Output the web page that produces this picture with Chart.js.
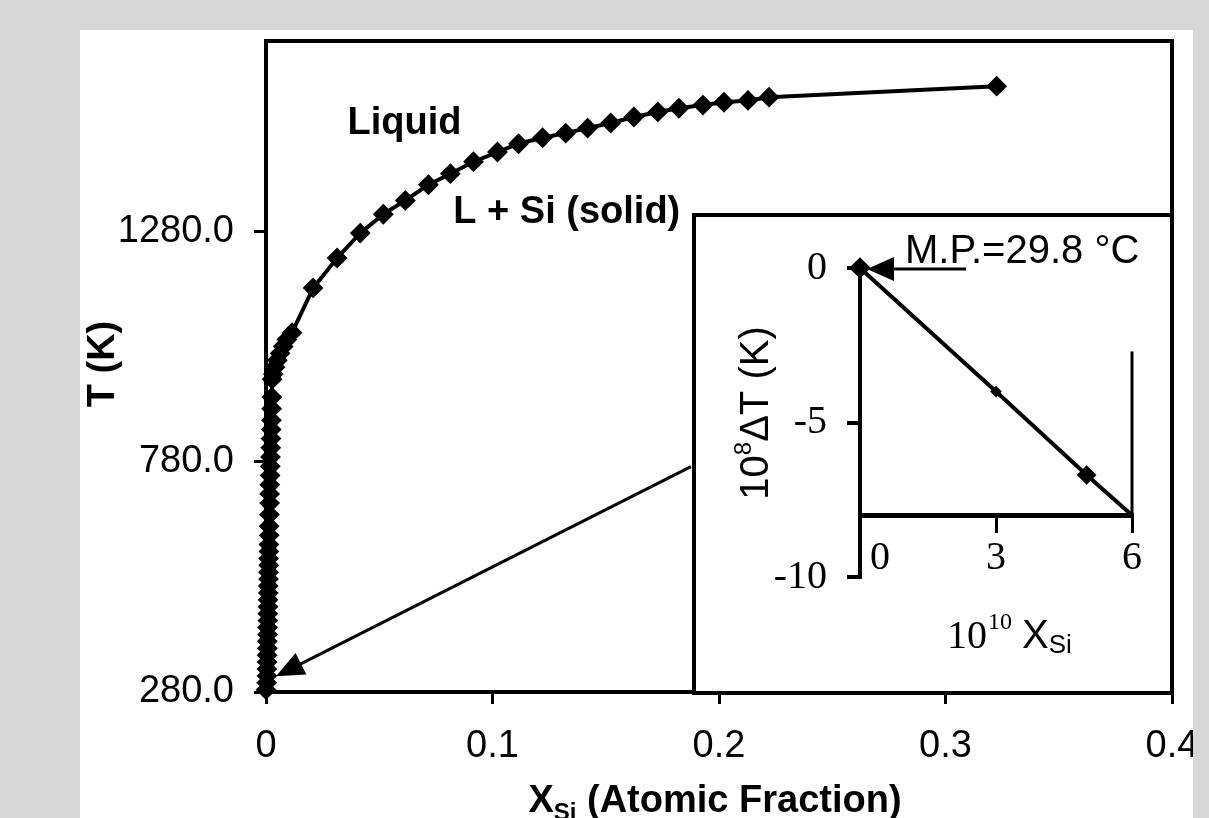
<!DOCTYPE html>
<html>
<head>
<meta charset="utf-8">
<script src="https://cdn.jsdelivr.net/npm/chart.js@4.4.1/dist/chart.umd.min.js"></script>
<style>
    body { margin: 0; background: #d7d7d7; width: 1209px; height: 818px; overflow: hidden; position: relative; }
    #panel { position: absolute; left: 80px; top: 30px; width: 1113px; height: 788px; background: #fff; overflow: hidden; }
    #main { position: absolute; left: 0; top: 0; }
    #insetBox { position: absolute; left: 612px; top: 183px; width: 482px; height: 482px; box-sizing: border-box; border: 4px solid #000; background: #fff; }
    #inset { display: block; }
</style>
</head>
<body>
<div id="panel">
    <canvas id="main" width="1113" height="788"></canvas>
    <div id="insetBox"><canvas id="inset" width="474" height="474"></canvas></div>
</div>
<script>
// Liquidus T vs X_Si (main plot)
const xSi = [
    0.0000, 0.0003, 0.0004, 0.0004, 0.0005, 0.0005, 0.0006, 0.0006, 0.0007, 0.0007,
    0.0008, 0.0008, 0.0009, 0.0009, 0.0010, 0.0010, 0.0011, 0.0011, 0.0012, 0.0012,
    0.0013, 0.0013, 0.0014, 0.0014, 0.0015, 0.0016, 0.0016, 0.0017, 0.0018, 0.0019,
    0.0020, 0.0021, 0.0022, 0.0023, 0.0024, 0.0025, 0.0026, 0.0027,
    0.0032, 0.0040, 0.0050, 0.0062, 0.0076, 0.0092, 0.0115,
    0.0208, 0.0314, 0.0416, 0.0518, 0.0615, 0.0717, 0.0814, 0.0916, 0.1022, 0.1115,
    0.1221, 0.1323, 0.1420, 0.1522, 0.1624, 0.1730, 0.1823, 0.1929, 0.2022, 0.2128,
    0.2221, 0.3226
];
const tempK = [
    285, 300, 315, 330, 345, 360, 375, 390, 405, 420,
    435, 450, 465, 480, 495, 510, 525, 540, 555, 570,
    585, 600, 620, 640, 665, 690, 710, 730, 750, 770,
    790, 810, 830, 850, 870, 895, 920, 959,
    970, 985, 1000, 1015, 1030, 1045, 1060,
    1157, 1222, 1276, 1317, 1347, 1381, 1405, 1431, 1452, 1470,
    1483, 1493, 1504, 1515, 1528, 1539, 1547, 1554, 1560, 1564,
    1571, 1595
];
const xTicks = [0, 0.1, 0.2, 0.3, 0.4];
const yTicks = [280, 780, 1280];

// inset: 10^8 dT vs 10^10 X_Si
const insetX = [0, 3, 5, 6];
const insetY = [0, -4, -6.7, -8];
const insetBarX = [6, 6];
const insetBarY = [-8, -2.7];
const insetXTicks = [0, 3, 6];
const insetYTicks = [0, -5, -10];

const SANS = "'Liberation Sans', Arial, sans-serif";
const SERIF = "'Liberation Serif', 'Times New Roman', serif";

const mainDecor = {
    id: "mainDecor",
    afterDatasetsDraw(chart) {
        const { ctx, chartArea: a, scales: { x, y } } = chart;
        ctx.save();
        // frame top + right
        ctx.strokeStyle = "#000";
        ctx.lineWidth = 4;
        ctx.beginPath();
        ctx.moveTo(a.left, a.top);
        ctx.lineTo(a.right, a.top);
        ctx.lineTo(a.right, a.bottom);
        ctx.stroke();

        ctx.fillStyle = "#000";
        ctx.font = "bold 38px " + SANS;
        ctx.textAlign = "left";
        ctx.textBaseline = "alphabetic";
        ctx.fillText("Liquid", x.getPixelForValue(0.036), y.getPixelForValue(1491));
        ctx.fillText("L + Si (solid)", x.getPixelForValue(0.0827), y.getPixelForValue(1297));

        // arrow from inset down to the origin
        const x0 = x.getPixelForValue(0.1876), y0 = y.getPixelForValue(769);
        const x1 = x.getPixelForValue(0.0044), y1 = y.getPixelForValue(314);
        const ang = Math.atan2(y1 - y0, x1 - x0);
        ctx.lineWidth = 3;
        ctx.beginPath();
        ctx.moveTo(x0, y0);
        ctx.lineTo(x1 - 20 * Math.cos(ang), y1 - 20 * Math.sin(ang));
        ctx.stroke();
        ctx.beginPath();
        ctx.moveTo(x1, y1);
        ctx.lineTo(x1 - 28 * Math.cos(ang) + 12 * Math.sin(ang), y1 - 28 * Math.sin(ang) - 12 * Math.cos(ang));
        ctx.lineTo(x1 - 28 * Math.cos(ang) - 12 * Math.sin(ang), y1 - 28 * Math.sin(ang) + 12 * Math.cos(ang));
        ctx.closePath();
        ctx.fill();

        // axis titles
        const cx = 635, by = 782;
        const big = "bold 38px " + SANS, small = "bold 24px " + SANS;
        ctx.font = big;
        const wX = ctx.measureText("X").width;
        const wRest = ctx.measureText(" (Atomic Fraction)").width;
        ctx.font = small;
        const wSi = ctx.measureText("Si").width;
        let px = cx - (wX + wSi + wRest) / 2;
        ctx.font = big;
        ctx.fillText("X", px, by);
        px += wX;
        ctx.font = small;
        ctx.fillText("Si", px, by + 8);
        px += wSi;
        ctx.font = big;
        ctx.fillText(" (Atomic Fraction)", px, by);

        ctx.translate(34, 334);
        ctx.rotate(-Math.PI / 2);
        ctx.textAlign = "center";
        ctx.fillText("T (K)", 0, 0);
        ctx.restore();
    },
};

new Chart(document.getElementById("main").getContext("2d"), {
    type: "scatter",
    data: {
        datasets: [{
            data: xSi.map((v, i) => ({ x: v, y: tempK[i] })),
            showLine: true,
            borderColor: "#000",
            backgroundColor: "#000",
            borderWidth: 4,
            pointStyle: "rectRot",
            pointRadius: 9,
            pointBorderWidth: 2,
            clip: false,
        }],
    },
    options: {
        responsive: false,
        animation: false,
        events: [],
        layout: { padding: { left: 0, top: 3, right: 21, bottom: 0 } },
        plugins: { legend: { display: false }, tooltip: { enabled: false } },
        scales: {
            x: {
                type: "linear",
                min: 0,
                max: 0.4,
                afterBuildTicks: (s) => { s.ticks = xTicks.map((v) => ({ value: v })); },
                afterFit: (s) => { s.height = 126; s.paddingLeft = 0; s.paddingRight = 0; },
                ticks: {
                    color: "#000",
                    font: { family: SANS, size: 38 },
                    padding: 20,
                    maxRotation: 0,
                    autoSkip: false,
                    callback: (v) => (v === 0 ? "0" : v.toFixed(1)),
                },
                grid: { drawOnChartArea: false, drawTicks: true, tickLength: 12, color: "#000", lineWidth: 3 },
                border: { display: true, color: "#000", width: 4 },
            },
            y: {
                type: "linear",
                min: 280,
                max: 1693,
                afterBuildTicks: (s) => { s.ticks = yTicks.map((v) => ({ value: v })); },
                afterFit: (s) => { s.width = 186; s.paddingTop = 0; s.paddingBottom = 0; },
                ticks: {
                    color: "#000",
                    font: { family: SANS, size: 38 },
                    padding: 20,
                    callback: (v) => v.toFixed(1),
                },
                grid: { drawOnChartArea: false, drawTicks: true, tickLength: 12, color: "#000", lineWidth: 3 },
                border: { display: true, color: "#000", width: 4 },
            },
        },
    },
    plugins: [mainDecor],
});

const insetDecor = {
    id: "insetDecor",
    afterDatasetsDraw(chart) {
        const { ctx, scales: { x, y } } = chart;
        ctx.save();
        ctx.fillStyle = "#000";
        ctx.strokeStyle = "#000";

        // melting point arrow + label
        const tx = x.getPixelForValue(0) + 7, ty = y.getPixelForValue(0) + 1;
        ctx.beginPath();
        ctx.moveTo(tx, ty);
        ctx.lineTo(tx + 27, ty - 12);
        ctx.lineTo(tx + 27, ty + 12);
        ctx.closePath();
        ctx.fill();
        ctx.lineWidth = 3;
        ctx.beginPath();
        ctx.moveTo(tx + 25, ty);
        ctx.lineTo(tx + 99, ty);
        ctx.stroke();
        ctx.font = "40px " + SANS;
        ctx.textAlign = "left";
        ctx.textBaseline = "alphabetic";
        ctx.fillText("M.P.=29.8 \u00B0C", tx + 38, ty - 6);

        // x title: 10^10 X_Si
        let px = 251;
        const by = 431;
        ctx.font = "40px " + SERIF;
        ctx.fillText("10", px, by);
        px += ctx.measureText("10").width + 1;
        ctx.font = "24px " + SERIF;
        ctx.fillText("10", px, by - 19);
        px += ctx.measureText("10").width + 10;
        ctx.font = "40px " + SANS;
        ctx.fillText("X", px, by);
        px += ctx.measureText("X").width;
        ctx.font = "26px " + SANS;
        ctx.fillText("Si", px, by + 5);

        // y title: 10^8 dT (K)
        ctx.translate(72, 196);
        ctx.rotate(-Math.PI / 2);
        ctx.font = "40px " + SANS;
        const w10 = ctx.measureText("10").width;
        const wRest = ctx.measureText("\u0394T (K)").width;
        ctx.font = "24px " + SANS;
        const w8 = ctx.measureText("8").width;
        let qx = -(w10 + w8 + wRest) / 2;
        ctx.font = "40px " + SANS;
        ctx.fillText("10", qx, 0);
        qx += w10;
        ctx.font = "24px " + SANS;
        ctx.fillText("8", qx, -17);
        qx += w8;
        ctx.font = "40px " + SANS;
        ctx.fillText("\u0394T (K)", qx, 0);
        ctx.restore();
    },
};

new Chart(document.getElementById("inset").getContext("2d"), {
    type: "scatter",
    data: {
        datasets: [
            {
                data: insetX.map((v, i) => ({ x: v, y: insetY[i] })),
                showLine: true,
                borderColor: "#000",
                backgroundColor: "#000",
                borderWidth: 4,
                pointStyle: "rectRot",
                pointRadius: [8, 3, 7, 0],
                clip: false,
            },
            {
                data: insetBarX.map((v, i) => ({ x: v, y: insetBarY[i] })),
                showLine: true,
                borderColor: "#000",
                borderWidth: 3,
                pointRadius: 0,
                clip: false,
            },
        ],
    },
    options: {
        responsive: false,
        animation: false,
        events: [],
        layout: { padding: { left: 0, top: 51, right: 38, bottom: 114 } },
        plugins: { legend: { display: false }, tooltip: { enabled: false } },
        scales: {
            x: {
                type: "linear",
                position: { y: -8 },
                min: 0,
                max: 6,
                afterBuildTicks: (s) => { s.ticks = insetXTicks.map((v) => ({ value: v })); },
                afterFit: (s) => { s.paddingLeft = 0; s.paddingRight = 0; },
                ticks: {
                    color: "#000",
                    font: { family: SERIF, size: 40 },
                    padding: 4,
                    maxRotation: 0,
                    autoSkip: false,
                    callback: (v) => (v === 0 ? "\u2002\u20020" : String(v)),
                },
                grid: { drawOnChartArea: false, drawTicks: true, tickLength: 15, color: "#000", lineWidth: 3 },
                border: { display: true, color: "#000", width: 5 },
            },
            y: {
                type: "linear",
                min: -10,
                max: 0,
                afterBuildTicks: (s) => { s.ticks = insetYTicks.map((v) => ({ value: v })); },
                afterFit: (s) => { s.width = 164; s.paddingTop = 0; s.paddingBottom = 0; },
                ticks: {
                    color: "#000",
                    font: { family: SERIF, size: 40 },
                    padding: 20,
                    callback: (v) => String(v),
                },
                grid: { drawOnChartArea: false, drawTicks: true, tickLength: 13, color: "#000", lineWidth: 4 },
                border: { display: true, color: "#000", width: 4 },
            },
        },
    },
    plugins: [insetDecor],
});
</script>
</body>
</html>
